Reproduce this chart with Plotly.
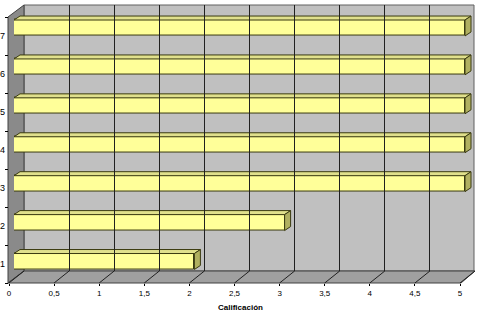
import plotly.graph_objects as go

# ---- data ----
categories = [1, 2, 3, 4, 5, 6, 7]
cat_labels = ["1", "2", "3", "4", "5", "6", "7"]
values = [2, 3, 5, 5, 5, 5, 5]
x_ticks = [0, 0.5, 1, 1.5, 2, 2.5, 3, 3.5, 4, 4.5, 5]
x_ticktext = ["0", "0,5", "1", "1,5", "2", "2,5", "3", "3,5", "4", "4,5", "5"]
x_title = "Calificación"

W, H = 478, 314
def px(x):
    return x / W
def py(y):
    return (H - y) / H

FONT = "Liberation Sans, Arial, sans-serif"

# depth offsets (in data units of bar axes)
BAR_W = 0.41
DX = 6 / 90.2
DY = 4 / 38.9
XMAX = 5.1  # room for the right-hand depth face of the longest bars

fig = go.Figure()

# front faces of bars
fig.add_trace(go.Bar(
    x=values, y=categories, orientation="h", width=BAR_W,
    marker=dict(color="#ffff99", line=dict(color="#3a3a10", width=1)),
    xaxis="x", yaxis="y", hoverinfo="skip", showlegend=False))

# 3D top and right faces derived from values
for c, v in zip(categories, values):
    h = BAR_W / 2
    fig.add_trace(go.Scatter(
        x=[0, v, v + DX, DX, 0], y=[c + h, c + h, c + h + DY, c + h + DY, c + h],
        fill="toself", fillcolor="#e0e08c", mode="lines",
        line=dict(color="#3a3a10", width=1), xaxis="x", yaxis="y",
        hoverinfo="skip", showlegend=False))
    fig.add_trace(go.Scatter(
        x=[v, v + DX, v + DX, v, v], y=[c - h, c - h + DY, c + h + DY, c + h, c - h],
        fill="toself", fillcolor="#b0b060", mode="lines",
        line=dict(color="#3a3a10", width=1), xaxis="x", yaxis="y",
        hoverinfo="skip", showlegend=False))

# dummy traces for label axes / back-wall grid axes
fig.add_trace(go.Scatter(x=[0] * len(cat_labels), y=cat_labels, mode="markers",
                         marker=dict(opacity=0), xaxis="x2", yaxis="y2",
                         hoverinfo="skip", showlegend=False))
fig.add_trace(go.Scatter(x=[0, 5], y=[0, 1], mode="markers",
                         marker=dict(opacity=0), xaxis="x3", yaxis="y3",
                         hoverinfo="skip", showlegend=False))

shapes = []
# back wall
shapes.append(dict(type="rect", xref="paper", yref="paper",
                   x0=px(24), x1=px(474), y0=py(271), y1=py(5),
                   fillcolor="#c0c0c0", line=dict(color="#606060", width=1), layer="below"))
# left wall
shapes.append(dict(type="path", xref="paper", yref="paper",
                   path=f"M {px(8)},{py(17)} L {px(24)},{py(5)} L {px(24)},{py(271)} L {px(8)},{py(283)} Z",
                   fillcolor="#8a8a8a", line=dict(color="#404040", width=1), layer="below"))
# floor
shapes.append(dict(type="path", xref="paper", yref="paper",
                   path=f"M {px(8)},{py(283)} L {px(461)},{py(283)} L {px(475)},{py(271)} L {px(24)},{py(271)} Z",
                   fillcolor="#a0a0a0", line=dict(color="#404040", width=1), layer="below"))
# floor slanted grid lines at each tick
for t in x_ticks:
    xf = 9 + 90.2 * t
    shapes.append(dict(type="line", xref="paper", yref="paper",
                       x0=px(xf), y0=py(283), x1=px(xf + 15), y1=py(271),
                       line=dict(color="#202020", width=1), layer="below"))

fig.update_layout(
    width=W, height=H,
    margin=dict(l=0, r=0, t=0, b=0, pad=0, autoexpand=False),
    paper_bgcolor="white", plot_bgcolor="rgba(0,0,0,0)",
    showlegend=False,
    font=dict(family=FONT, size=8, color="black"),
    shapes=shapes,
    bargap=0,
    xaxis=dict(domain=[px(14), px(14 + 90.2 * XMAX)], range=[0, XMAX], visible=False,
               fixedrange=True, automargin=False),
    yaxis=dict(domain=[py(280.96), py(8.54)], range=[0.5, 7.5], visible=False,
               fixedrange=True, automargin=False),
    xaxis2=dict(domain=[px(9), px(460)], range=[0, 5], anchor="free", position=py(283),
                tickmode="array", tickvals=x_ticks, ticktext=x_ticktext,
                ticks="outside", ticklen=2, tickcolor="black", showgrid=False,
                zeroline=False, showline=False, automargin=False,
                tickfont=dict(size=8, family=FONT, color="black")),
    yaxis2=dict(domain=[py(283), py(17)], type="category", categoryorder="array",
                categoryarray=cat_labels, range=[-0.5, 6.5], anchor="free", position=px(8),
                tickson="boundaries", ticks="outside", ticklen=3,
                tickcolor="black", showgrid=False, zeroline=False, showline=False,
                ticklabelstandoff=3, automargin=False,
                tickfont=dict(size=9, family=FONT, color="black")),
    xaxis3=dict(domain=[px(24), px(474)], range=[0, 5], anchor="y3", dtick=0.5, tick0=0,
                showgrid=True, gridcolor="#202020", gridwidth=1, showticklabels=False,
                zeroline=False, showline=False, ticks="", automargin=False),
    yaxis3=dict(domain=[py(271), py(5)], range=[0, 1], anchor="x3", showgrid=False,
                showticklabels=False, zeroline=False, showline=False, ticks="",
                automargin=False),
    annotations=[dict(text="<b>" + x_title + "</b>", xref="paper", yref="paper",
                      x=px(240), y=py(307), xanchor="center", yanchor="middle",
                      showarrow=False,
                      font=dict(size=8, family=FONT, color="black"))],
)

fig.write_html("out.html")
